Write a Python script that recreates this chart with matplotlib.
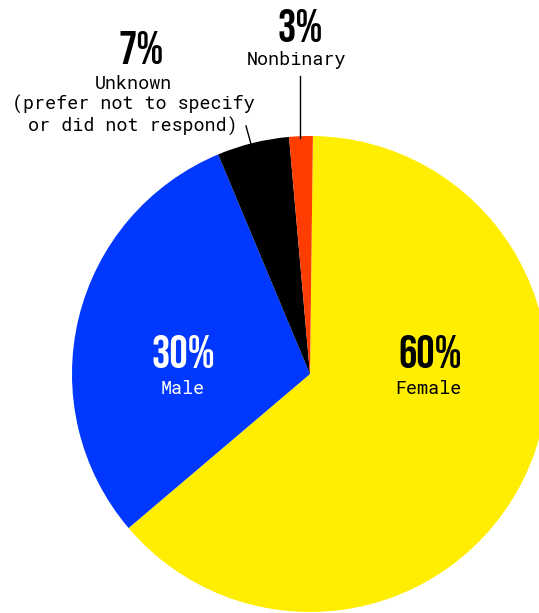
import matplotlib
matplotlib.use("Agg")
import matplotlib.pyplot as plt

categories = ["Female", "Male", "Unknown", "Nonbinary"]
values = [63.6, 29.9, 4.9, 1.6]
pct_labels = ["60%", "30%", "7%", "3%"]
name_labels = ["Female", "Male", "Unknown\n(prefer not to specify\nor did not respond)", "Nonbinary"]
colors = ["#FFEE00", "#0038FF", "#000000", "#FF3D00"]

W, H = 539, 613
fig = plt.figure(figsize=(W / 100, H / 100), dpi=100)
ax = fig.add_axes([0, 0, 1, 1])
cx, cy, r = 310, H - 374, 238
ax.pie(values, colors=colors, startangle=89.3, counterclock=False,
       center=(cx, cy), radius=r, wedgeprops=dict(linewidth=0))
ax.set_xlim(0, W)
ax.set_ylim(0, H)
ax.set_aspect("equal")
ax.axis("off")

pct_font = dict(family=["Bebas Neue", "Oswald", "DejaVu Sans"], fontsize=33)
lab_font = dict(family=["Roboto Mono", "DejaVu Sans Mono"], fontsize=13.2)

def Y(y):
    return H - y

# Female
ax.text(430, Y(352), pct_labels[0], color="black", ha="center", va="center", **pct_font)
ax.text(428, Y(389), name_labels[0], color="black", ha="center", va="center", **lab_font)
# Male
ax.text(183, Y(352), pct_labels[1], color="white", ha="center", va="center", **pct_font)
ax.text(183, Y(389), name_labels[1], color="white", ha="center", va="center", **lab_font)
# Unknown
ax.text(141, Y(47), pct_labels[2], color="black", ha="center", va="center", **pct_font)
ax.text(133, Y(105.5), name_labels[2], color="black", ha="center", va="center",
        linespacing=1.15, **lab_font)
ax.plot([246, 251], [Y(126), Y(144)], color="black", lw=1)
# Nonbinary
ax.text(300, Y(26), pct_labels[3], color="black", ha="center", va="center", **pct_font)
ax.text(297, Y(60), name_labels[3], color="black", ha="center", va="center", **lab_font)
ax.plot([300, 300], [Y(76), Y(138)], color="black", lw=1)

fig.savefig("out.png", dpi=100)
